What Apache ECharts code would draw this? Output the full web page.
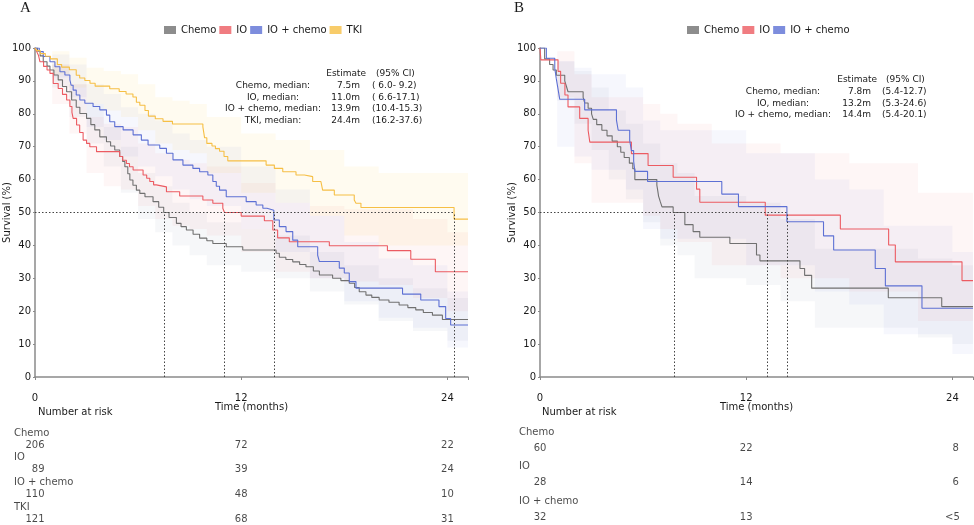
<!DOCTYPE html>
<html>
<head>
<meta charset="utf-8" />
<title>Overall survival</title>
<style>html,body{margin:0;padding:0;background:#fff;}</style>
</head>
<body>
<div id="chart" style="width:974px;height:525px;"></div>
<script src="https://cdn.jsdelivr.net/npm/echarts@6/dist/echarts.min.js"></script>
<script>
// ---- panel A curves, [months, survival %]
var chemoA = [[0,100],[0.15,99.0],[0.3,97.6],[0.48,95.8],[0.7,94.5],[0.87,93.3],[1.1,91.8],[1.35,90.3],[1.6,88.3],[1.84,86.7],[2.13,84.2],[2.4,82.0],[2.61,80.1],[3.0,78.6],[3.25,76.7],[3.48,75.1],[3.77,73.0],[4.16,71.5],[4.4,70.2],[4.64,69.0],[4.93,67.0],[5.1,65.5],[5.23,63.9],[5.4,61.8],[5.52,59.9],[5.7,58.3],[5.9,56.8],[6.1,55.8],[6.4,54.8],[6.87,53.3],[7.2,51.6],[7.49,50.0],[7.8,48.5],[8.23,46.7],[8.5,45.7],[8.81,44.7],[9.2,43.4],[9.58,42.2],[10.0,41.4],[10.35,40.6],[11.13,39.6],[12.09,38.6],[14.03,37.6],[14.22,36.4],[14.6,35.7],[15.0,35.0],[15.4,34.2],[15.77,33.5],[16.2,32.2],[16.55,31.0],[17.32,30.0],[17.8,29.3],[18.29,28.5],[18.6,27.2],[18.87,25.9],[19.26,24.9],[19.6,24.2],[20.03,23.4],[20.6,22.7],[21.19,21.9],[21.7,21.1],[22.16,20.4],[22.6,19.6],[23.13,18.8],[23.71,17.5],[25.2,17.5]];
var ioA = [[0,100],[0.1,98.9],[0.2,97.8],[0.29,95.8],[0.5,94.4],[0.7,93.3],[0.87,92.3],[1.06,89.2],[1.35,87.7],[1.6,85.9],[1.84,84.2],[2.03,82.2],[2.15,80.4],[2.22,78.6],[2.42,76.6],[2.6,74.3],[2.8,72.0],[3.0,71.0],[3.19,70.0],[3.58,68.5],[4.93,67.0],[5.1,65.9],[5.32,64.9],[5.5,63.9],[5.71,62.9],[6.29,61.4],[6.5,60.4],[6.68,59.4],[6.9,58.4],[7.06,57.8],[7.65,56.3],[8.42,55.0],[9.77,53.8],[10.35,52.8],[10.93,51.3],[11.03,50.0],[12.0,48.9],[13.35,47.5],[13.84,44.7],[14.12,42.3],[14.8,41.1],[17.13,39.9],[20.51,38.4],[21.87,35.8],[23.3,32.0],[25.2,32.0]];
var ioChemoA = [[0,100],[0.25,98.9],[0.48,97.4],[0.87,95.8],[1.16,94.3],[1.45,92.8],[1.74,91.8],[2.03,90.3],[2.1,88.7],[2.22,87.2],[2.4,85.7],[2.61,84.2],[2.9,83.2],[3.38,82.2],[3.77,81.2],[4.16,79.6],[4.35,77.6],[4.64,76.1],[5.13,75.1],[5.71,73.6],[6.19,72.0],[6.58,70.5],[7.26,69.5],[7.65,68.0],[8.03,66.0],[8.61,64.4],[9.19,63.4],[9.58,62.4],[10.06,61.4],[10.35,59.4],[10.55,58.0],[10.74,56.8],[11.13,54.8],[12.29,53.3],[12.87,52.3],[13.26,51.3],[13.5,50.7],[13.9,47.7],[14.22,45.7],[14.61,44.2],[15.0,41.6],[15.29,39.6],[16.45,37.0],[16.55,35.1],[17.71,33.1],[18.0,31.6],[18.29,29.0],[18.68,27.0],[21.39,25.2],[22.45,23.4],[23.51,21.4],[23.9,17.8],[24.19,15.8],[25.2,15.8]];
var tkiA = [[0,100],[0.1,99.2],[0.3,98.3],[0.6,97.5],[0.9,96.7],[1.3,95.0],[1.55,94.2],[2.0,93.4],[2.4,91.7],[2.6,90.9],[2.9,90.1],[3.2,89.3],[3.5,88.4],[4.35,87.6],[4.9,86.8],[5.3,86.0],[5.7,85.1],[5.9,83.5],[6.1,82.6],[6.4,81.0],[6.6,79.3],[7.0,78.5],[7.45,77.7],[8.0,76.9],[9.77,76.0],[9.87,72.7],[10.0,71.0],[10.3,70.2],[10.5,69.4],[10.74,68.6],[11.0,67.0],[11.22,65.7],[13.45,64.4],[13.93,63.4],[14.42,62.4],[15.19,61.4],[15.68,60.9],[16.16,59.4],[16.64,58.9],[16.74,56.8],[17.42,55.3],[18.58,53.8],[18.68,52.8],[18.97,51.5],[24.39,48.0],[25.2,48.0]];

// ---- panel B curves
var chemoB = [[0,100],[0.27,96.7],[0.56,95.0],[0.76,93.3],[0.95,91.7],[1.44,90.0],[1.54,88.3],[1.63,86.7],[2.51,85.0],[2.6,83.3],[2.8,81.7],[3.0,80.0],[3.1,78.3],[3.3,76.7],[3.6,75.0],[3.9,73.3],[4.2,71.7],[4.5,70.0],[4.7,68.3],[4.9,66.7],[5.2,65.0],[5.4,63.3],[5.52,60.0],[6.8,58.3],[6.85,56.7],[6.9,55.0],[7.0,53.3],[7.1,51.7],[7.75,50.0],[8.43,46.3],[8.91,44.2],[9.3,42.5],[11.05,40.6],[12.6,37.1],[12.8,35.3],[15.13,33.0],[15.4,30.9],[15.81,27.0],[20.27,24.1],[23.38,21.4],[25.2,21.4]];
var ioB = [[0,100],[0.05,96.4],[1.05,92.9],[1.2,89.3],[1.45,85.7],[1.63,82.1],[2.31,78.6],[2.8,75.0],[2.9,71.4],[5.32,67.9],[6.29,64.3],[7.75,60.7],[9.11,57.1],[9.3,53.1],[13.11,49.2],[17.48,45.0],[20.29,40.1],[20.68,35.0],[24.56,29.3],[25.2,29.3]];
var ioChemoB = [[0,100],[0.37,96.9],[0.86,93.8],[0.95,90.6],[1.05,87.5],[1.15,84.4],[2.6,81.2],[4.45,78.1],[4.55,75.0],[5.22,71.9],[5.32,68.8],[5.45,65.6],[5.52,62.5],[6.26,59.4],[10.58,55.6],[11.55,51.8],[14.37,47.2],[16.5,42.9],[17.09,38.6],[19.51,33.0],[20.1,27.7],[22.23,20.9],[25.2,20.9]];

// ---- 95% confidence bands (lower / upper), sampled at bandX
var bandX = [0,1,2,3,4,5,6,7,8,9,10,12,14,16,18,20,22,24,25.2];
var chemoA_lo = [100,88,79,71,64,56,48,44,40,37,34,32,30,26,22,17,14,11,11];
var chemoA_hi = [100,95,89,83,76,70,62,58,53,50,47,45,43,38,34,30,27,24,24];
var ioA_lo = [100,83,74,62,58,57,52,48,46,45,43,38,32,30,29,28,24,20,20];
var ioA_hi = [100,95,89,79,77,76,71,68,66,65,64,59,53,52,51,51,48,44,44];
var ioChemoA_lo = [100,91,85,76,72,67,64,61,57,54,52,45,38,30,23,18,15,9,7];
var ioChemoA_hi = [100,98,95,89,86,82,80,78,74,72,70,64,57,49,41,36,34,26,25];
var tkiA_lo = [100,92,88,83,81,79,75,71,69,68,62,56,53,49,43,40,40,40,36];
var tkiA_hi = [100,99,97,94,93,92,89,85,84,83,79,74,72,69,64,62,62,62,60];
var chemoB_lo = [100,84,77,69,60,54,47,40,37,30,30,28,23,15,15,15,12,10,10];
var chemoB_hi = [100,96,93,88,81,77,71,65,62,55,55,53,48,39,39,39,36,34,34];
var ioB_lo = [100,85,65,53,53,53,49,45,41,41,34,34,30,30,26,26,17,17,12];
var ioB_hi = [100,99,92,85,85,85,83,80,77,77,71,71,68,68,65,65,56,56,51];
var ioChemoB_lo = [100,70,67,63,63,57,45,42,42,42,42,34,34,26,22,13,13,7,7];
var ioChemoB_hi = [100,96,94,92,92,88,78,75,75,75,75,68,68,60,57,46,46,38,38];

// ---- medians table
var groupsA = ['Chemo', 'IO', 'IO + chemo', 'TKI'];
var groupsB = ['Chemo', 'IO', 'IO + chemo'];
var medA = [7.5, 11.0, 13.9, 24.4];
var ciA = ['( 6.0- 9.2)', '( 6.6-17.1)', '(10.4-15.3)', '(16.2-37.6)'];
var medB = [7.8, 13.2, 14.4];
var ciB = ['(5.4-12.7)', '(5.3-24.6)', '(5.4-20.1)'];

// ---- number at risk
var riskTimes = [0, 12, 24];
var riskA = [[206, 72, 22], [89, 39, 24], [110, 48, 10], [121, 68, 31]];
var riskB = [[60, 22, 8], [28, 14, 6], [32, 13, '<5']];

var colors = {'Chemo': '#707070', 'IO': '#ec5b62', 'IO + chemo': '#5d70d4', 'TKI': '#f6bf45'};
var bandColors = {'Chemo': 'rgba(120,135,165,0.065)', 'IO': 'rgba(245,95,95,0.055)', 'IO + chemo': 'rgba(95,115,225,0.055)', 'TKI': 'rgba(250,200,60,0.08)'};
var FONT = 'DejaVu Sans';

var myChart = echarts.init(document.getElementById('chart'));

function curve(name, data, idx, marks) {
    var s = {
        name: name, type: 'line', xAxisIndex: idx, yAxisIndex: idx,
        data: data, step: 'end', symbol: 'none', showSymbol: false,
        lineStyle: {color: colors[name], width: 1.1},
        itemStyle: {color: colors[name]},
        z: 3, silent: true, animation: false
    };
    if (marks) {
        var lines = [[{coord: [0, 50]}, {coord: [Math.max.apply(null, marks), 50]}]];
        marks.forEach(function (m) { lines.push([{coord: [m, 0]}, {coord: [m, 50]}]); });
        s.markLine = {
            symbol: 'none', silent: true, animation: false,
            label: {show: false},
            lineStyle: {color: '#444', width: 1, type: [1.5, 2]},
            data: lines
        };
    }
    return s;
}

// step-shaped confidence band drawn as one polygon, positioned by the axes
function band(name, lo, hi, idx) {
    return {
        type: 'custom', xAxisIndex: idx, yAxisIndex: idx, silent: true, animation: false, z: 1,
        data: [[0, 100]],
        renderItem: function (params, api) {
            var top = [], bot = [];
            for (var i = 0; i < bandX.length; i++) {
                var xNext = i < bandX.length - 1 ? bandX[i + 1] : bandX[i];
                top.push(api.coord([bandX[i], hi[i]]), api.coord([xNext, hi[i]]));
                bot.push(api.coord([bandX[i], lo[i]]), api.coord([xNext, lo[i]]));
            }
            return {type: 'polygon', shape: {points: top.concat(bot.reverse())},
                style: {fill: bandColors[name], stroke: null}};
        }
    };
}

function riskSeries(groups, risk, idx, labelDy) {
    var nums = [], names = [];
    riskTimes.forEach(function (t, k) {
        var w = 0;
        risk.forEach(function (r) { w = Math.max(w, String(r[k]).length); });
        risk.forEach(function (r, g) {
            var s = String(r[k]);
            while (s.length < w) s = '\u2007' + s;
            nums.push([t, g, s]);
        });
    });
    groups.forEach(function (g, i) { names.push([0, i, g]); });
    var base = {type: 'scatter', xAxisIndex: idx, yAxisIndex: idx, symbolSize: 1,
        itemStyle: {color: 'rgba(0,0,0,0)'}, silent: true, animation: false};
    return [
        Object.assign({}, base, {data: nums, label: {show: true, position: 'inside', fontSize: 10, color: '#1a1a1a', fontFamily: FONT,
            formatter: function (p) { return p.value[2]; }}}),
        Object.assign({}, base, {data: names, label: {show: true, position: 'inside', align: 'left', offset: [-21, labelDy], fontSize: 10, color: '#1a1a1a', fontFamily: FONT,
            formatter: function (p) { return p.value[2]; }}})
    ];
}

function plotX(idx) {
    return {
        gridIndex: idx, type: 'value', min: 0, max: 25.2, interval: 12,
        axisLine: {show: true, onZero: false, lineStyle: {color: '#8a8a8a', width: 1.5}},
        axisTick: {show: true, length: 3, lineStyle: {color: '#8a8a8a'}},
        axisLabel: {margin: 16, fontSize: 10, color: '#1a1a1a', fontFamily: FONT,
            formatter: function (v) { return v % 12 === 0 ? v : ''; }},
        splitLine: {show: false},
        name: 'Time (months)', nameLocation: 'middle', nameGap: 25, nameMoveOverlap: false,
        nameTextStyle: {fontSize: 10, color: '#1a1a1a', fontFamily: FONT}
    };
}
function plotY(idx) {
    return {
        gridIndex: idx, type: 'value', min: 0, max: 100, interval: 10,
        axisLine: {show: true, onZero: false, lineStyle: {color: '#8a8a8a', width: 1.5}},
        axisTick: {show: true, length: 2, lineStyle: {color: '#8a8a8a'}},
        axisLabel: {margin: 4, fontSize: 10, color: '#1a1a1a', fontFamily: FONT},
        splitLine: {show: false},
        name: 'Survival (%)', nameLocation: 'middle', nameGap: 23, nameMoveOverlap: false,
        nameTextStyle: {fontSize: 10, color: '#1a1a1a', fontFamily: FONT}
    };
}
function hiddenX(idx) { return {gridIndex: idx, type: 'value', min: 0, max: 25.2, show: false}; }
function hiddenY(idx, n) { return {gridIndex: idx, type: 'value', min: 0, max: n - 1, inverse: true, show: false}; }

function legendFor(groups, left) {
    return {
        left: left, top: 20, itemGap: 3, itemWidth: 12, itemHeight: 8, icon: 'rect',
        selectedMode: false,
        textStyle: {fontSize: 10, color: '#1a1a1a', fontFamily: FONT},
        data: groups.map(function (n) { return {name: n, icon: 'rect', itemStyle: {color: colors[n], opacity: 0.8}, lineStyle: {width: 0}}; })
    };
}

function table(names, med, ci, cx, vx, cix, hy) {
    var els = [];
    var st = function (text, x, y, align) {
        return {type: 'text', silent: true, style: {text: text, x: x, y: y, fill: '#1a1a1a', font: '9px "DejaVu Sans"',
            align: align, textAlign: align, verticalAlign: 'middle', textVerticalAlign: 'middle'}};
    };
    els.push(st('Estimate', vx + 6, hy, 'right'));
    els.push(st('(95% CI)', cix + 4, hy, 'left'));
    names.forEach(function (n, i) {
        var y = hy + 12 + i * 11.5;
        els.push(st(n + ', median:', cx, y, 'center'));
        els.push(st(med[i].toFixed(1) + 'm', vx, y, 'right'));
        els.push(st(ci[i], cix, y, 'left'));
    });
    return els;
}

function plain(text, x, y, font, align) {
    return {type: 'text', silent: true, style: {text: text, x: x, y: y, fill: '#1a1a1a', font: font,
        align: align || 'left', textAlign: align || 'left', verticalAlign: 'middle', textVerticalAlign: 'middle'}};
}

var series = [
    band('Chemo', chemoA_lo, chemoA_hi, 0),
    band('IO', ioA_lo, ioA_hi, 0),
    band('IO + chemo', ioChemoA_lo, ioChemoA_hi, 0),
    band('TKI', tkiA_lo, tkiA_hi, 0),
    band('Chemo', chemoB_lo, chemoB_hi, 1),
    band('IO', ioB_lo, ioB_hi, 1),
    band('IO + chemo', ioChemoB_lo, ioChemoB_hi, 1),
    curve('Chemo', chemoA, 0, medA),
    curve('IO', ioA, 0),
    curve('IO + chemo', ioChemoA, 0),
    curve('TKI', tkiA, 0),
    curve('Chemo', chemoB, 1, medB),
    curve('IO', ioB, 1),
    curve('IO + chemo', ioChemoB, 1)
];
series = series.concat(riskSeries(groupsA, riskA, 2, -12));
series = series.concat(riskSeries(groupsB, riskB, 3, -16));

var graphics = [
    plain('A', 20, 8, '15px "Liberation Serif"'),
    plain('B', 514, 8, '15px "Liberation Serif"'),
    plain('Number at risk', 38, 412, '10px "DejaVu Sans"'),
    plain('Number at risk', 542, 412, '10px "DejaVu Sans"')
];
graphics = graphics.concat(table(groupsA, medA, ciA, 273, 360, 372, 74));
graphics = graphics.concat(table(groupsB, medB, ciB, 783, 871, 882, 80));

option = {
    backgroundColor: '#fff',
    animation: false,
    textStyle: {fontFamily: FONT},
    grid: [
        {left: 35, top: 48, width: 433, height: 329, outerBoundsMode: 'none'},
        {left: 540, top: 48, width: 433, height: 329, outerBoundsMode: 'none'},
        {left: 35, top: 445, width: 433, height: 74, outerBoundsMode: 'none'},
        {left: 540, top: 448, width: 433, height: 69, outerBoundsMode: 'none'}
    ],
    xAxis: [plotX(0), plotX(1), hiddenX(2), hiddenX(3)],
    yAxis: [plotY(0), plotY(1), hiddenY(2, 4), hiddenY(3, 3)],
    legend: [legendFor(groupsA, 159), legendFor(groupsB, 682)],
    graphic: graphics,
    series: series
};
option && myChart.setOption(option);
</script>
</body>
</html>
